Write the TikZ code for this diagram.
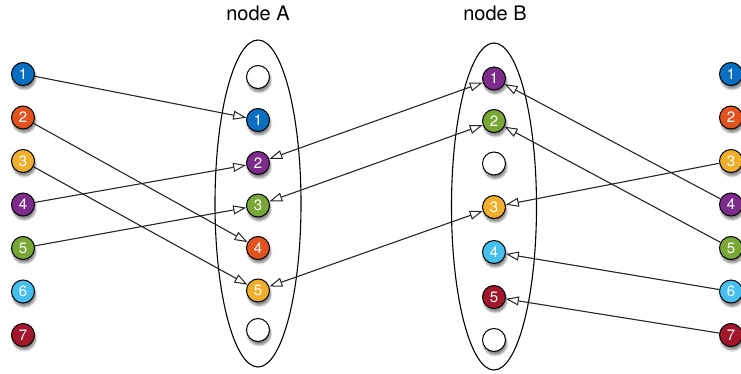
\documentclass[tikz,border=0pt]{standalone}
\usepackage{fontspec}
\setmainfont{TeX Gyre Heros}
\usetikzlibrary{arrows.meta,shadows.blur,shapes.geometric}
\definecolor{cblue}{HTML}{0A6FC2}
\definecolor{cred}{HTML}{E2521F}
\definecolor{cyellow}{HTML}{EFAE2C}
\definecolor{cpurple}{HTML}{7D2C8C}
\definecolor{cgreen}{HTML}{79A735}
\definecolor{ccyan}{HTML}{45BFEE}
\definecolor{cdark}{HTML}{A3172D}
\tikzset{
  x=1pt, y=-1pt,
  ball/.style={circle, draw=black, line width=1pt, minimum size=23pt, inner sep=0pt,
    text=white, font=\fontsize{15}{15}\selectfont,
    blur shadow={shadow xshift=1.2pt, shadow yshift=-3.5pt, shadow blur steps=6, shadow opacity=50}},
  tip/.tip={Triangle[open,length=13pt,width=9pt,line width=1pt]},
  conn/.style={line width=1.1pt, draw=black!85, -tip},
  dconn/.style={line width=1.1pt, draw=black!85, tip-tip},
  group/.style={ellipse, draw=black, line width=1.1pt, inner sep=0pt},
  title/.style={font=\fontsize{20}{20}\selectfont}
}
\begin{document}
\begin{tikzpicture}
\useasboundingbox (0,0) rectangle (741,374);
% ellipses
\node[group, minimum width=86pt, minimum height=327pt] (EA) at (258,203.5) {};
\node[group, minimum width=85pt, minimum height=327pt] (EB) at (494,206.5) {};
\node[title] (tA) at (258,13) {node A};
\node[title] (tB) at (495,13) {node B};
% left column
\node[ball, fill=cblue]   (L1) at (23,74) {1};
\node[ball, fill=cred]    (L2) at (23,117.5) {2};
\node[ball, fill=cyellow] (L3) at (23,161) {3};
\node[ball, fill=cpurple] (L4) at (23,204.5) {4};
\node[ball, fill=cgreen]  (L5) at (23,248) {5};
\node[ball, fill=ccyan]   (L6) at (23,291.5) {6};
\node[ball, fill=cdark]   (L7) at (23,335) {7};
% node A column
\node[ball, fill=white]   (A0) at (258,77) {};
\node[ball, fill=cblue]   (A1) at (258,120) {1};
\node[ball, fill=cpurple] (A2) at (258,163) {2};
\node[ball, fill=cgreen]  (A3) at (258,205.5) {3};
\node[ball, fill=cred]    (A4) at (258,248) {4};
\node[ball, fill=cyellow] (A5) at (258,290.5) {5};
\node[ball, fill=white]   (A6) at (258,330) {};
% node B column
\node[ball, fill=cpurple] (B1) at (494,78.5) {1};
\node[ball, fill=cgreen]  (B2) at (494,121) {2};
\node[ball, fill=white]   (B0) at (494,163.5) {};
\node[ball, fill=cyellow] (B3) at (494,207) {3};
\node[ball, fill=ccyan]   (B4) at (494,252) {4};
\node[ball, fill=cdark]   (B5) at (494,297) {5};
\node[ball, fill=white]   (B6) at (494,340) {};
% right column
\node[ball, fill=cblue]   (R1) at (731,74) {1};
\node[ball, fill=cred]    (R2) at (731,117.5) {2};
\node[ball, fill=cyellow] (R3) at (731,161) {3};
\node[ball, fill=cpurple] (R4) at (731,204.5) {4};
\node[ball, fill=cgreen]  (R5) at (731,248) {5};
\node[ball, fill=ccyan]   (R6) at (731,291.5) {6};
\node[ball, fill=cdark]   (R7) at (731,335) {7};
% connectors
\draw[conn] (L1) -- (A1);
\draw[conn] (L2) -- (A4);
\draw[conn] (L3) -- (A5);
\draw[conn] (L4) -- (A2);
\draw[conn] (L5) -- (A3);
\draw[dconn] (A2) -- (B1);
\draw[dconn] (A3) -- (B2);
\draw[dconn] (A5) -- (B3);
\draw[conn] (R4) -- (B1);
\draw[conn] (R5) -- (B2);
\draw[conn] (R3) -- (B3);
\draw[conn] (R6) -- (B4);
\draw[conn] (R7) -- (B5);
\end{tikzpicture}
\end{document}
